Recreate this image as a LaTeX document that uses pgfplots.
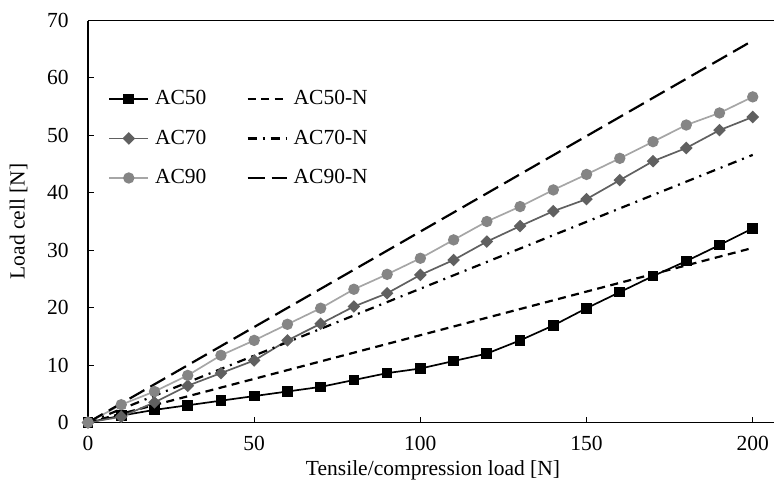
\documentclass[border=0pt]{standalone}
\usepackage{fontspec}
\setmainfont{Liberation Serif}
\usepackage{pgfplots}
\pgfplotsset{compat=1.18}
\definecolor{g70}{HTML}{606060}
\definecolor{g90l}{HTML}{A6A6A6}
\definecolor{g90m}{HTML}{858585}
\begin{document}
\fontsize{21.5bp}{26bp}\selectfont
\begin{tikzpicture}
\begin{axis}[
  scale only axis,
  width=690bp, height=402bp,
  xmin=0, xmax=207.6, ymin=0, ymax=70,
  axis x line*=bottom, axis y line*=left,
  axis line style={line width=1.6bp, -},
  xtick={0,50,...,200}, ytick={0,10,...,70},
  tick align=inside, major tick length=6bp,
  tick style={line width=1bp, black},
  /pgf/number format/assume math mode=true,
  ticklabel style={font=\fontsize{21.5bp}{26bp}\selectfont},
  xticklabel style={yshift=-6bp},
  yticklabel style={xshift=-12bp},
  label style={font=\fontsize{21.5bp}{26bp}\selectfont},
  xlabel={Tensile/compression load [N]},
  ylabel={Load cell [N]},
  xlabel style={yshift=4bp},
  ylabel style={yshift=5bp},
  clip=false,
  legend columns=2,
  legend style={draw=none, fill=none, at={(0.025,0.837)}, anchor=north west,
    font=\fontsize{21.5bp}{26bp}\selectfont, column sep=4bp, row sep=18bp,
    /tikz/every even column/.append style={column sep=38bp}},
  legend cell align=left,
  legend image code/.code={\draw[mark repeat=2,mark phase=2] plot coordinates {(0bp,0bp)(19.5bp,0bp)(39bp,0bp)};},
]
\addplot[black, line width=1.7bp, mark=square*, mark size=4.5bp, mark options={solid}] coordinates {
(0,0) (10,1.2) (20,2.2) (30,3.0) (40,3.8) (50,4.6) (60,5.4) (70,6.2) (80,7.4) (90,8.6) (100,9.4)
(110,10.7) (120,12.0) (130,14.3) (140,16.9) (150,19.9) (160,22.7) (170,25.5) (180,28.1) (190,30.9) (200,33.8)};
\addlegendentry{AC50}
\addplot[black, line width=2.2bp, dash pattern=on 8bp off 5.5bp] coordinates {(0,0) (200,30.4)};
\addlegendentry{AC50-N}
\addplot[g70, line width=1.7bp, mark=square*, mark size=3.6bp, mark options={solid, rotate=45}] coordinates {
(0,0) (10,1.0) (20,3.5) (30,6.4) (40,8.6) (50,10.8) (60,14.3) (70,17.2) (80,20.2) (90,22.5) (100,25.7)
(110,28.3) (120,31.5) (130,34.2) (140,36.8) (150,38.9) (160,42.2) (170,45.5) (180,47.8) (190,50.9) (200,53.2)};
\addlegendentry{AC70}
\addplot[black, line width=2.2bp, dash pattern=on 9bp off 6bp on 2bp off 6bp] coordinates {(0,0) (200,46.6)};
\addlegendentry{AC70-N}
\addplot[g90l, line width=1.7bp, mark=*, mark size=4.8bp, mark options={solid, fill=g90m, draw=g90m}] coordinates {
(0,0) (10,3.1) (20,5.4) (30,8.2) (40,11.7) (50,14.3) (60,17.1) (70,19.9) (80,23.2) (90,25.8) (100,28.6)
(110,31.8) (120,35.0) (130,37.6) (140,40.5) (150,43.2) (160,46.0) (170,48.9) (180,51.8) (190,53.9) (200,56.7)};
\addlegendentry{AC90}
\addplot[black, line width=2.2bp, dash pattern=on 17bp off 7bp] coordinates {(0,0) (200,66.5)};
\addlegendentry{AC90-N}
\draw[line width=1.6bp] (rel axis cs:0,1) -- (rel axis cs:1,1);
\end{axis}
\pgfresetboundingbox
\path (-88bp,-68.5bp) rectangle (686bp,422.5bp);
\end{tikzpicture}
\end{document}
